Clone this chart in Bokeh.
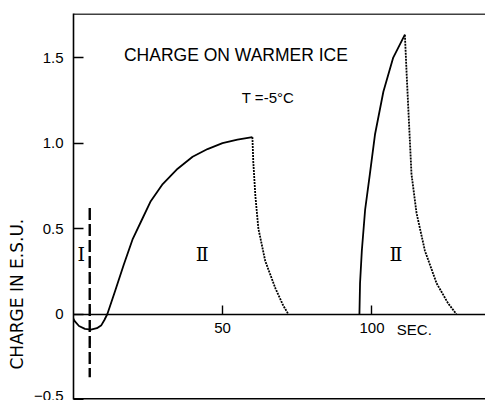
from bokeh.plotting import figure
from bokeh.models import Label, Span, FixedTicker
from bokeh.embed import file_html
from bokeh.resources import INLINE

# --- data ---
# phase I + II charging curve (solid)
t_charge = [-0.7, 0.5, 2.0, 4.0, 6.0, 8.0, 9.5, 10.5, 11.5, 14.0, 17.0, 20.0,
            23.0, 26.0, 30.0, 35.0, 40.0, 45.0, 50.0, 55.0, 60.0]
q_charge = [0.0, -0.04, -0.07, -0.087, -0.091, -0.083, -0.065, -0.035, 0.0,
            0.13, 0.29, 0.44, 0.55, 0.66, 0.76, 0.85, 0.92, 0.965, 1.0, 1.02, 1.035]
# phase II decay (dotted)
t_decay2 = [60.0, 60.3, 61.0, 62.0, 64.3, 67.7, 70.3, 72.0]
q_decay2 = [1.035, 0.89, 0.69, 0.50, 0.31, 0.15, 0.05, 0.0]
# phase III charging (solid)
t_charge3 = [95.8, 96.0, 96.6, 97.7, 99.3, 101.0, 103.8, 107.1, 111.0]
q_charge3 = [0.0, 0.18, 0.37, 0.61, 0.82, 1.05, 1.30, 1.50, 1.634]
# phase III decay (dotted)
t_decay3 = [111.0, 111.6, 112.4, 113.2, 114.9, 117.7, 121.6, 125.4, 128.2]
q_decay3 = [1.634, 1.40, 1.11, 0.82, 0.59, 0.37, 0.18, 0.064, 0.0]
# boundary between phase I and II (dashed)
boundary_t = [5.6, 5.6]
boundary_q = [0.62, -0.37]

ytick_values = [-0.5, 0.0, 0.5, 1.0, 1.5]
ytick_labels = ["−0.5", "0", "0.5", "1.0", "1.5"]
xtick_values = [50, 100]
xtick_labels = ["50", "100"]

p = figure(width=485, height=400, x_range=(0.17, 137.96), y_range=(-0.5, 1.758),
           toolbar_location=None, output_backend="svg", title_location="left",
           min_border_left=73, min_border_right=0, min_border_top=13, min_border_bottom=1)
p.outline_line_color = None
p.xgrid.grid_line_color = None
p.ygrid.grid_line_color = None
p.background_fill_color = "white"
p.border_fill_color = "white"

# y axis title (placed as left title so it can sit low like the reference)
p.title.text = "CHARGE IN  E.S.U."
p.title.align = "left"
p.title.offset = 30
p.title.text_font = "DejaVu Sans"
p.title.text_font_size = "17px"
p.title.text_font_style = "normal"
p.title.text_color = "black"
p.title.standoff = 8

# y axis
ya = p.yaxis[0]
ya.ticker = FixedTicker(ticks=ytick_values)
ya.major_label_overrides = dict(zip(ytick_values, ytick_labels))
ya.major_tick_in = 10
ya.major_tick_out = 0
ya.minor_tick_line_color = None
ya.major_label_standoff = 10
ya.axis_line_width = 1.6
ya.major_tick_line_width = 1.4
ya.major_label_text_font = "Liberation Sans"
ya.major_label_text_font_size = "15px"
ya.major_label_text_color = "black"
ya.axis_line_color = "black"

# x axis through zero
xa = p.xaxis[0]
xa.fixed_location = 0
xa.ticker = FixedTicker(ticks=xtick_values)
xa.major_label_overrides = dict(zip(xtick_values, xtick_labels))
xa.major_tick_in = 9
xa.major_tick_out = 0
xa.minor_tick_line_color = None
xa.major_label_standoff = 9
xa.axis_line_width = 1.6
xa.major_tick_line_width = 1.4
xa.major_label_text_font = "Liberation Sans"
xa.major_label_text_font_size = "15px"
xa.major_label_text_color = "black"

# frame lines top and bottom
p.add_layout(Span(location=1.755, dimension="width", line_color="black", line_width=1.6))
p.add_layout(Span(location=-0.497, dimension="width", line_color="black", line_width=2))

# curves
p.line(t_charge, q_charge, line_color="black", line_width=1.8)
p.line(t_decay2, q_decay2, line_color="black", line_width=1.8, line_dash="2 1")
p.line(t_charge3, q_charge3, line_color="black", line_width=1.8)
p.line(t_decay3, q_decay3, line_color="black", line_width=1.8, line_dash="2 1")
p.line(boundary_t, boundary_q, line_color="black", line_width=2.4, line_dash="12 4")

# texts
p.add_layout(Label(x=54.5, y=1.517, text="CHARGE ON WARMER ICE", text_align="center",
                   text_baseline="middle", text_font="Liberation Sans",
                   text_font_size="17.5px", text_color="black"))
p.add_layout(Label(x=65.2, y=1.267, text="T =-5°C", text_align="center",
                   text_baseline="middle", text_font="Liberation Sans",
                   text_font_size="15px", text_color="black"))
p.add_layout(Label(x=108.3, y=-0.093, text="SEC.", text_align="left",
                   text_baseline="middle", text_font="Liberation Sans",
                   text_font_size="15px", text_color="black"))
p.add_layout(Label(x=2.8, y=0.35, text="I", text_align="center",
                   text_baseline="middle", text_font="DejaVu Serif",
                   text_font_size="19px", text_color="black"))
p.add_layout(Label(x=43.2, y=0.35, text="Ⅱ", text_align="center",
                   text_baseline="middle", text_font="DejaVu Serif",
                   text_font_size="19px", text_color="black"))
p.add_layout(Label(x=108.0, y=0.35, text="Ⅱ", text_align="center",
                   text_baseline="middle", text_font="DejaVu Serif",
                   text_font_size="19px", text_color="black"))

open("out.html", "w").write(file_html(p, INLINE))
